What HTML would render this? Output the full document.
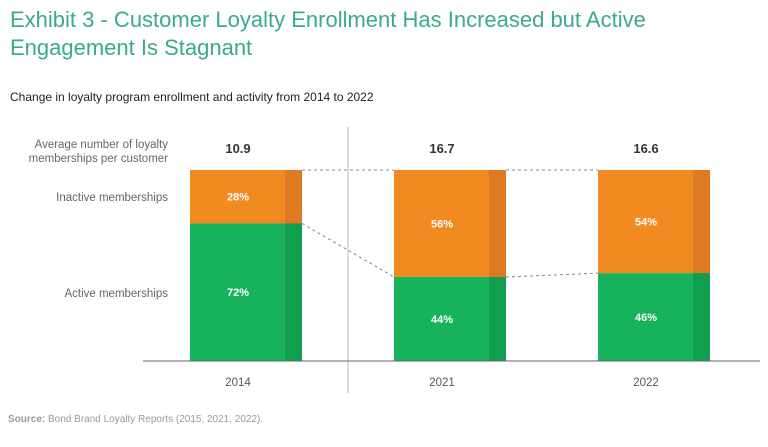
<!DOCTYPE html>
<html><head><meta charset="utf-8"><style>
body{margin:0;background:#fff;font-family:"Liberation Sans",sans-serif}
#wrap{position:relative;width:768px;height:447px;overflow:hidden}
.t{position:absolute;left:10px;top:6px;font-size:22px;line-height:28px;color:#3aaa8e}
.s{position:absolute;left:10px;top:90px;font-size:12px;color:#222}
.src{position:absolute;left:8px;top:414px;font-size:10px;color:#999}
</style></head><body>
<div id="wrap">
<div class="t">Exhibit 3 - Customer Loyalty Enrollment Has Increased but Active<br>Engagement Is Stagnant</div>
<div class="s">Change in loyalty program enrollment and activity from 2014 to 2022</div>
<svg id="c" width="768" height="447" style="position:absolute;left:0;top:0"></svg>
<div class="src"><b>Source:</b> Bond Brand Loyalty Reports (2015, 2021, 2022).</div>
</div>
<script>
const years=["2014","2021","2022"];
const avgMemberships=["10.9","16.7","16.6"];
const activePct=[72,44,46];
const inactivePct=[28,56,54];
const svg=document.getElementById('c');
const NS='http://www.w3.org/2000/svg';
function mk(t,a,txt){const e=document.createElementNS(NS,t);for(const k in a)e.setAttribute(k,a[k]);if(txt!=null)e.textContent=txt;svg.appendChild(e);return e;}
const TOP=170,BOT=361,H=BOT-TOP,W=112;
const xs=i=>190+i*204;
const y=p=>TOP+(100-p)/100*H;
let e;
e=mk('text',{x:168,y:148,'text-anchor':'end','font-size':11.5,fill:'#666'},'Average number of loyalty');

e=mk('text',{x:168,y:162,'text-anchor':'end','font-size':11.5,fill:'#666'},'memberships per customer');

e=mk('text',{x:168,y:201,'text-anchor':'end','font-size':11.5,fill:'#666'},'Inactive memberships');

e=mk('text',{x:168,y:297,'text-anchor':'end','font-size':11.5,fill:'#666'},'Active memberships');

e=mk('line',{x1:348,y1:127,x2:348,y2:393,stroke:'#bbb','stroke-width':1});

for(let i=0;i<years.length-1;i++){
 const x1=xs(i)+W,x2=xs(i+1);
 e=mk('line',{x1:x1,y1:TOP,x2:x2,y2:TOP,stroke:'#888','stroke-dasharray':'3,3','stroke-width':1});
 
 e=mk('line',{x1:x1,y1:y(activePct[i]),x2:x2,y2:y(activePct[i+1]),stroke:'#888','stroke-dasharray':'3,3','stroke-width':1});
 
}
years.forEach((yr,i)=>{
 const x=xs(i),ys=y(activePct[i]);
 let r=mk('rect',{x:x,y:TOP,width:W,height:ys-TOP,fill:'#f28a22'});
 
 r=mk('rect',{x:x+W-17,y:TOP,width:17,height:ys-TOP,fill:'#de7a22'});
 
 r=mk('rect',{x:x,y:ys,width:W,height:BOT-ys,fill:'#16b35c'});
 
 r=mk('rect',{x:x+W-17,y:ys,width:17,height:BOT-ys,fill:'#119e4e'});
 
 const cx=x+W/2-8;
 let t=mk('text',{x:cx,y:(TOP+ys)/2+4,'text-anchor':'middle','font-size':11,'font-weight':'bold',fill:'#fff'},inactivePct[i]+'%');
 
 t=mk('text',{x:cx,y:(ys+BOT)/2+4,'text-anchor':'middle','font-size':11,'font-weight':'bold',fill:'#fff'},activePct[i]+'%');
 
 t=mk('text',{x:cx,y:153,'text-anchor':'middle','font-size':13,'font-weight':'bold',fill:'#333'},avgMemberships[i]);
 
 t=mk('text',{x:cx,y:386,'text-anchor':'middle','font-size':11.5,fill:'#555'},yr);
 
});
e=mk('line',{x1:143,y1:BOT,x2:760,y2:BOT,stroke:'#666','stroke-width':1});

</script>
</body></html>
